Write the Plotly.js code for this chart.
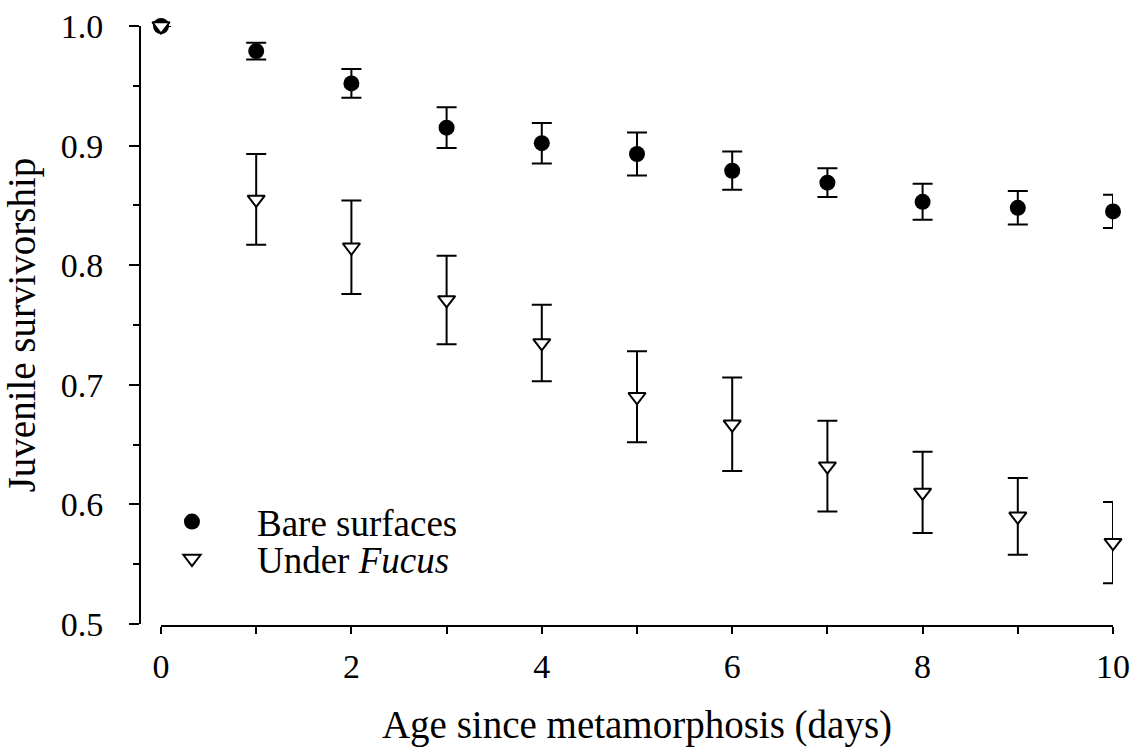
<!DOCTYPE html>
<html>
<head>
<meta charset="utf-8">
<script src="https://cdn.plot.ly/plotly-3.0.1.min.js"></script>
<style>
  html, body { margin: 0; padding: 0; background: #fff; }
  #chart { width: 1133px; height: 753px; }
</style>
</head>
<body>
<div id="chart"></div>
<script>
// Age since metamorphosis (days)
const days = [0, 1, 2, 3, 4, 5, 6, 7, 8, 9, 10];

// Juvenile survivorship on bare rock surfaces (mean and standard error)
const bareMean = [1.000, 0.979, 0.952, 0.915, 0.902, 0.893, 0.879, 0.869, 0.853, 0.848, 0.845];
const bareSE   = [null, 0.007, 0.012, 0.017, 0.017, 0.018, 0.016, 0.012, 0.015, 0.014, 0.014];

// Juvenile survivorship under the Fucus canopy (mean and standard error)
const fucusMean = [1.000, 0.855, 0.815, 0.771, 0.735, 0.690, 0.667, 0.632, 0.610, 0.590, 0.568];
const fucusSE   = [null, 0.038, 0.039, 0.037, 0.032, 0.038, 0.039, 0.038, 0.034, 0.032, 0.034];

const xTickVals = [0, 2, 4, 6, 8, 10];
const yTickVals = [0.5, 0.6, 0.7, 0.8, 0.9, 1.0];

const serif = 'Liberation Serif, Times New Roman, serif';
const legendFont = { family: serif, size: 37, color: '#000' };

const traces = [
  {
    x: days, y: bareMean, name: 'Bare surfaces',
    type: 'scatter', mode: 'markers', cliponaxis: false,
    legend: 'legend',
    marker: { symbol: 'circle', size: 16, color: '#000', line: { width: 0 } },
    error_y: { type: 'data', array: bareSE, visible: true, color: '#000', thickness: 2, width: 10 }
  },
  {
    x: days, y: fucusMean, name: 'Under <i>Fucus</i>',
    type: 'scatter', mode: 'markers', cliponaxis: false,
    legend: 'legend2',
    marker: { symbol: 'triangle-down', size: 15, color: '#fff', line: { color: '#000', width: 2 } },
    error_y: { type: 'data', array: fucusSE, visible: true, color: '#000', thickness: 2, width: 10 }
  }
];

// one legend box per series so each row can be placed on its own
const legendBox = (yPos) => ({
  x: -0.0134, y: yPos, xanchor: 'left', yanchor: 'middle',
  bgcolor: 'rgba(0,0,0,0)', borderwidth: 0,
  font: legendFont, itemwidth: 120
});

const layout = {
  width: 1133, height: 753,
  margin: { l: 140, r: 20, t: 26, b: 127 },
  paper_bgcolor: '#fff', plot_bgcolor: '#fff',
  font: { family: serif, color: '#000', size: 34 },
  showlegend: true,
  legend: legendBox(0.1733),
  legend2: legendBox(0.1117),
  xaxis: {
    domain: [21 / 973, 1], anchor: 'free', position: 0,
    range: [0, 10], autorange: false,
    showgrid: false, zeroline: false,
    showline: true, linecolor: '#000', linewidth: 2,
    ticks: 'outside', ticklen: 7, tickwidth: 2, tickcolor: '#000',
    tickmode: 'array', tickvals: xTickVals,
    minor: { dtick: 1, ticks: 'outside', ticklen: 7, tickwidth: 2, tickcolor: '#000' },
    tickfont: { family: serif, size: 34, color: '#000' },
    ticklabelstandoff: 3,
    title: { text: 'Age since metamorphosis (days)', font: { family: serif, size: 39, color: '#000' }, standoff: 26 }
  },
  yaxis: {
    domain: [2 / 600, 1], anchor: 'free', position: 0,
    range: [0.5, 1.0], autorange: false,
    showgrid: false, zeroline: false,
    showline: true, linecolor: '#000', linewidth: 2,
    ticks: 'outside', ticklen: 10, tickwidth: 2, tickcolor: '#000',
    tickmode: 'array', tickvals: yTickVals, tickformat: '.1f',
    minor: { dtick: 0.05, ticks: 'outside', ticklen: 6, tickwidth: 2, tickcolor: '#000' },
    tickfont: { family: serif, size: 34, color: '#000' },
    ticklabelstandoff: 19,
    title: { text: 'Juvenile survivorship', font: { family: serif, size: 39, color: '#000' }, standoff: 16 }
  }
};

Plotly.newPlot('chart', traces, layout, { staticPlot: true, displayModeBar: false });
</script>
</body>
</html>
